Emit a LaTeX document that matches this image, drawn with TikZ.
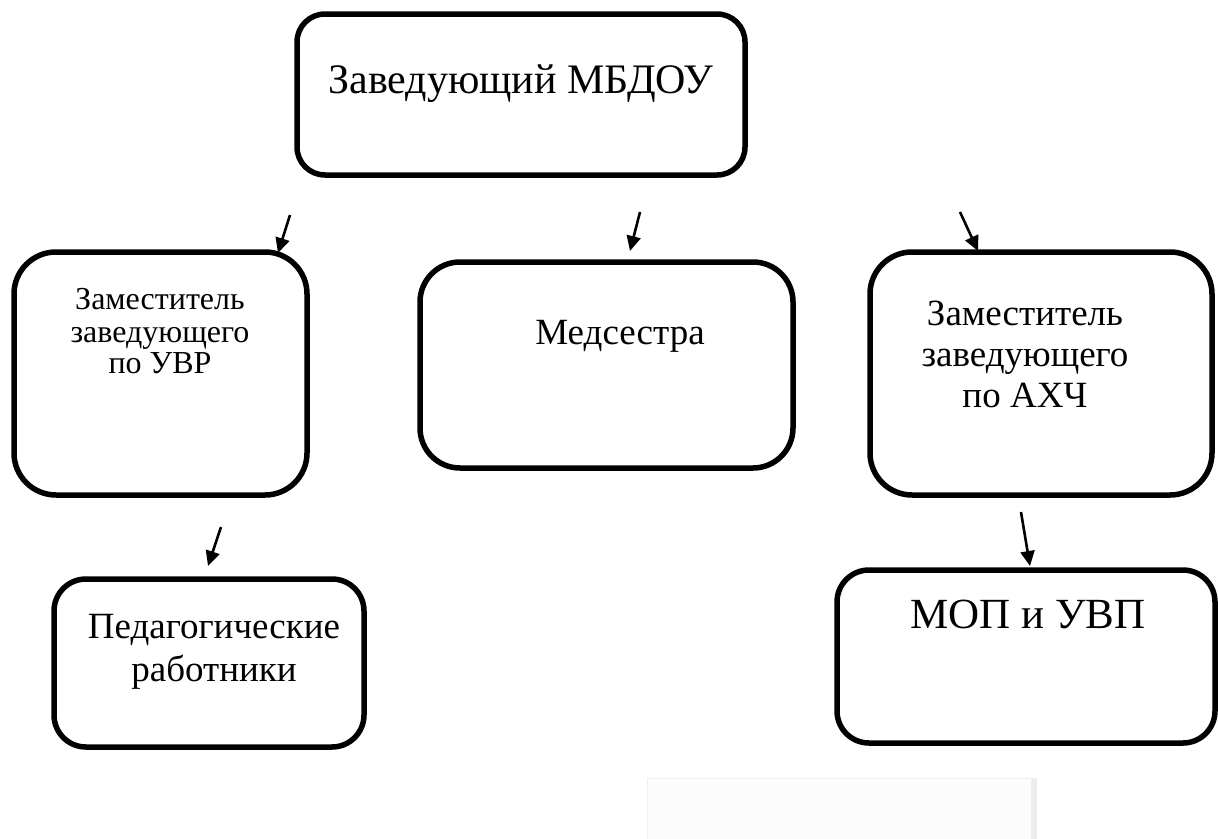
\documentclass[tikz,border=0pt]{standalone}
\usepackage{fontspec}
\setmainfont{Liberation Serif}
\usetikzlibrary{arrows.meta}
\begin{document}
\begin{tikzpicture}[x=1pt,y=-1pt,
  box/.style={draw=black,line width=5.5pt,rounded corners=#1,inner sep=0pt},
  box/.default=35pt,
  lbl/.style={inner sep=0pt,anchor=base},
  arr/.style={line width=2.6pt,-{Triangle[length=15pt,width=14pt]}},
  faint/.style={fill=black!1,draw=black!6,line width=0.8pt}]
\useasboundingbox (0,0) rectangle (1218,838);
% faint rectangle at bottom
\path[faint] (647,778) rectangle (1034,845);
\draw[black!7,line width=6pt] (1034,778) -- (1034,845);
% boxes
\node[box=28pt,minimum width=448pt,minimum height=161pt] (top) at (521,94.5) {};
\node[box=42pt,minimum width=293pt,minimum height=243pt] (uvr) at (160.5,373.5) {};
\node[box=40pt,minimum width=373pt,minimum height=206pt] (med) at (606.5,365) {};
\node[box=42pt,minimum width=342pt,minimum height=243pt] (ahch) at (1041,373.5) {};
\node[box=32pt,minimum width=310pt,minimum height=168pt] (ped) at (209,663) {};
\node[box=32pt,minimum width=378pt,minimum height=173pt] (mop) at (1026,656.5) {};
% texts
\node[lbl,font=\fontsize{42}{50}\selectfont] (topT) at (521,93) {Заведующий МБДОУ};
\node[lbl,font=\fontsize{32}{36}\selectfont] (uvrT1) at (160,309) {Заместитель};
\node[lbl,font=\fontsize{32}{36}\selectfont] (uvrT2) at (160,342) {заведующего};
\node[lbl,font=\fontsize{32}{36}\selectfont] (uvrT3) at (160,373) {по УВР};
\node[lbl,font=\fontsize{37}{44}\selectfont] (medT) at (620,344) {Медсестра};
\node[lbl,font=\fontsize{37}{44}\selectfont] (ahchT1) at (1025,325) {Заместитель};
\node[lbl,font=\fontsize{37}{44}\selectfont] (ahchT2) at (1025,366) {заведующего};
\node[lbl,font=\fontsize{37}{44}\selectfont] (ahchT3) at (1025,407) {по АХЧ};
\node[lbl,font=\fontsize{37}{44}\selectfont] (pedT1) at (214,638) {Педагогические};
\node[lbl,font=\fontsize{37}{44}\selectfont] (pedT2) at (214,681) {работники};
\node[lbl,font=\fontsize{43}{50}\selectfont] (mopT) at (1028,628) {МОП и УВП};
% arrows
\coordinate (a1s) at (290,215); \coordinate (a1e) at (278,253);
\coordinate (a2s) at (640,212); \coordinate (a2e) at (630,251);
\coordinate (a3s) at (960,212); \coordinate (a3e) at (978,251);
\coordinate (a4s) at (221,527); \coordinate (a4e) at (208,566);
\coordinate (a5s) at (1021,512); \coordinate (a5e) at (1030,566);
\draw[arr] (a1s) -- (a1e);
\draw[arr] (a2s) -- (a2e);
\draw[arr] (a3s) -- (a3e);
\draw[arr] (a4s) -- (a4e);
\draw[arr] (a5s) -- (a5e);
\end{tikzpicture}
\end{document}
